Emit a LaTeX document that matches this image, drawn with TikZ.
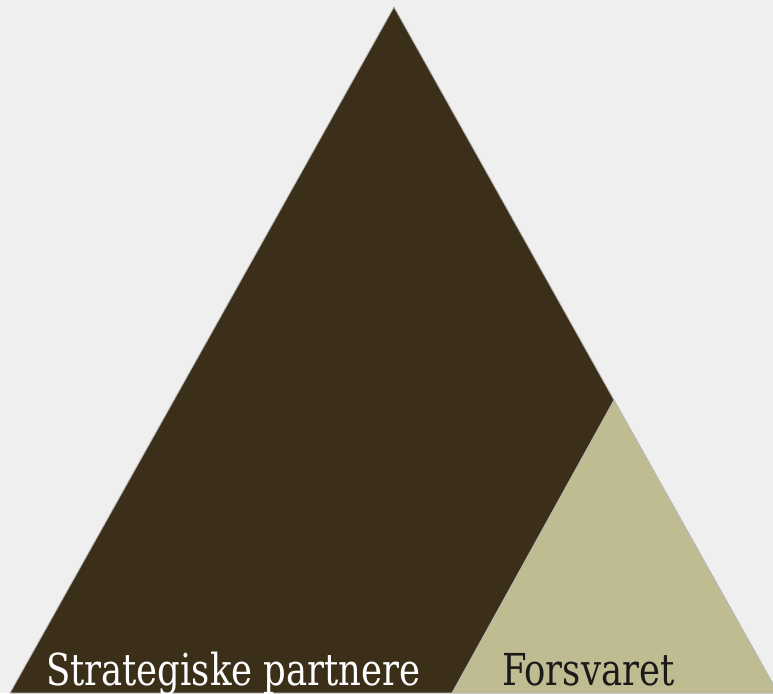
\documentclass[tikz,border=0pt]{standalone}
\usepackage{fontspec}
\setmainfont[FakeStretch=0.895]{DejaVu Serif Condensed}
\definecolor{bgc}{HTML}{EFEFEF}
\definecolor{darkbrown}{HTML}{3B2F1A}
\definecolor{khaki}{HTML}{BFBC91}
\definecolor{edgec}{HTML}{B8B8B8}
\definecolor{textdark}{HTML}{1A1A1A}
\tikzset{
  tri/.style={draw=edgec, line width=0.8pt, line join=miter},
  lbl/.style={anchor=base west, inner sep=0pt, font=\fontsize{44}{50}\selectfont}
}
\begin{document}
\begin{tikzpicture}[x=1pt,y=-1pt]
\useasboundingbox (0,0) rectangle (773,693);
\fill[bgc] (0,0) rectangle (773,693);
\clip (0,0) rectangle (773,693);
\coordinate (A) at (394,7);
\coordinate (BL) at (10,693);
\coordinate (BR) at (778,693);
\coordinate (C) at (614,400);
\coordinate (D) at (452,693);
\filldraw[tri, fill=darkbrown] (A) -- (BL) -- (BR) -- cycle;
\filldraw[tri, fill=khaki] (C) -- (D) -- (BR) -- cycle;
\node[lbl, text=white] (sp) at (46,685) {Strategiske partnere};
\node[lbl, text=textdark] (fv) at (502,685) {Forsvaret};
\end{tikzpicture}
\end{document}
